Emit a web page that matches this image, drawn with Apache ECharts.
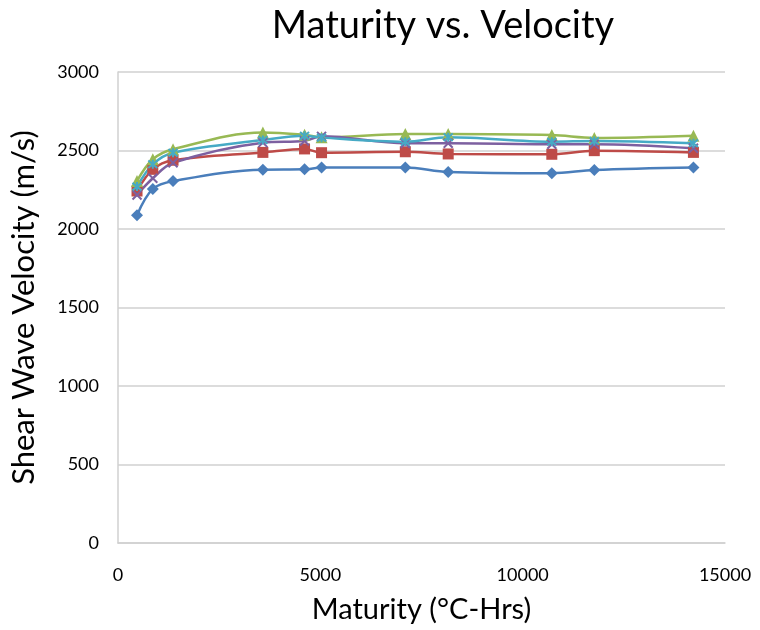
<!DOCTYPE html>
<html>
<head>
<meta charset="utf-8">
<script src="https://cdn.jsdelivr.net/npm/echarts@6/dist/echarts.min.js"></script>
<style>html,body{margin:0;padding:0;background:#fff}#c{width:760px;height:630px}</style>
</head>
<body>
<div id="c"></div>
<script>
var maturity = [470, 860, 1360, 3580, 4610, 5030, 7100, 8160, 10720, 11770, 14220];
var seriesNames = ['Series1', 'Series2', 'Series3', 'Series4', 'Series5'];
var velBlue   = [2088, 2255, 2305, 2378, 2380, 2392, 2392, 2363, 2355, 2376, 2392];
var velRed    = [2242, 2380, 2438, 2488, 2510, 2486, 2492, 2478, 2476, 2499, 2488];
var velGreen  = [2306, 2444, 2508, 2615, 2600, 2584, 2605, 2605, 2598, 2580, 2594];
var velPurple = [2217, 2323, 2422, 2550, 2561, 2590, 2546, 2546, 2540, 2540, 2514];
var velCyan   = [2270, 2412, 2486, 2567, 2594, 2582, 2556, 2584, 2556, 2561, 2546];
var xTicks = [0, 5000, 10000, 15000];
var yTicks = [0, 500, 1000, 1500, 2000, 2500, 3000];

function pairs(v){ return maturity.map(function(x,i){ return [x, v[i]]; }); }

var font = 'Lato, "Open Sans", sans-serif';
var chart = echarts.init(document.getElementById('c'), null, {renderer:'canvas'});

function mk(name, data, color, symbol, size, extra){
  var s = {
    name: name, type: 'line', data: pairs(data), smooth: 0.35,
    symbol: symbol, symbolSize: size,
    lineStyle: {color: color, width: 2.5},
    itemStyle: {color: color},
    z: 3
  };
  if (extra) { for (var k in extra) s[k] = extra[k]; }
  return s;
}

var xPath = 'path://M0,0L10,10M10,0L0,10';
var starPath = 'path://M0,0L10,10M10,0L0,10M5,-1L5,11';

chart.setOption({
  animation: false,
  title: {
    text: 'Maturity vs. Velocity', left: 438, top: 2, textAlign: 'center',
    textStyle: {fontFamily: font, fontSize: 38, fontWeight: 'normal', color: '#000'}
  },
  grid: {left: 117, right: 35, top: 72, bottom: 87},
  xAxis: {
    type: 'value', min: 0, max: 15000, interval: 5000,
    name: 'Maturity (°C-Hrs)', nameLocation: 'middle', nameGap: 52,
    nameTextStyle: {fontFamily: font, fontSize: 29, color: '#000'},
    axisLine: {show: true, lineStyle: {color: '#d0d0d0', width: 1.5}},
    axisTick: {show: false},
    splitLine: {show: false},
    axisLabel: {fontFamily: font, fontSize: 18, color: '#000', margin: 23,
      formatter: function(v){ return xTicks.indexOf(v) >= 0 ? String(v) : ''; }}
  },
  yAxis: {
    type: 'value', min: 0, max: 3000, interval: 500,
    name: 'Shear Wave Velocity (m/s)', nameLocation: 'middle', nameGap: 79, nameRotate: 90,
    nameTextStyle: {fontFamily: font, fontSize: 31, color: '#000'},
    axisLine: {show: true, lineStyle: {color: '#d0d0d0', width: 1.5}},
    axisTick: {show: false},
    splitLine: {show: true, lineStyle: {color: '#d0d0d0', width: 1.5}},
    axisLabel: {fontFamily: font, fontSize: 18, color: '#000', margin: 19,
      formatter: function(v){ return yTicks.indexOf(v) >= 0 ? String(v) : ''; }}
  },
  series: [
    mk(seriesNames[0], velBlue, '#4a7ebb', 'diamond', 12),
    mk(seriesNames[1], velRed, '#be4b48', 'rect', 11),
    mk(seriesNames[2], velGreen, '#98b954', 'triangle', 12),
    mk(seriesNames[3], velPurple, '#7d60a0', xPath, 9, {itemStyle: {color: 'none', borderColor: '#7d60a0', borderWidth: 2}}),
    mk(seriesNames[4], velCyan, '#46aac5', starPath, 9, {itemStyle: {color: 'none', borderColor: '#46aac5', borderWidth: 2}})
  ]
});
</script>
</body>
</html>
